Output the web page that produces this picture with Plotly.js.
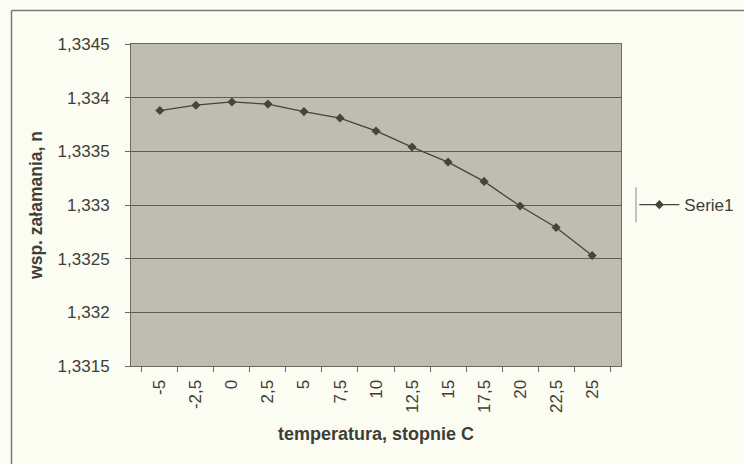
<!DOCTYPE html>
<html>
<head>
<meta charset="utf-8">
<script src="https://cdn.plot.ly/plotly-3.0.1.min.js"></script>
<style>html,body{margin:0;padding:0;background:#fbfcf2;}#chart{width:744px;height:464px;}</style>
</head>
<body>
<div id="chart"></div>
<script>
var categories = ["-5","-2,5","0","2,5","5","7,5","10","12,5","15","17,5","20","22,5","25"];
var serie1 = [1.33388,1.33393,1.33396,1.33394,1.33387,1.33381,1.33369,1.33354,1.33340,1.33322,1.33299,1.33279,1.33253];
var yTickVals = [1.3315,1.332,1.3325,1.333,1.3335,1.334,1.3345];
var yTickText = ["1,3315","1,332","1,3325","1,333","1,3335","1,334","1,3345"];
var seriesName = "Serie1";
var xTitle = "temperatura, stopnie C";
var yTitle = "wsp. załamania, n";

var fontFam = "Liberation Sans, Arial, sans-serif";
var txt = "#3e3e38";
var trace = {
  x: categories, y: serie1, type: "scatter", mode: "lines+markers", name: seriesName,
  line: {color: "#45453c", width: 1.3},
  marker: {symbol: "diamond", size: 7, color: "#45453c"}
};
var layout = {
  width: 744, height: 464,
  margin: {l: 131, r: 123, t: 44, b: 98, autoexpand: false},
  paper_bgcolor: "#fbfcf2",
  plot_bgcolor: "#bfbcb1",
  separators: ", ",
  font: {family: fontFam, size: 17, color: txt},
  showlegend: true,
  legend: {xref: "container", yref: "container", x: 0.8526, xanchor: "left", y: 0.558, yanchor: "middle", itemwidth: 40,
           bgcolor: "rgba(0,0,0,0)", borderwidth: 0,
           font: {family: fontFam, size: 17, color: txt}},
  xaxis: {
    type: "category", tickson: "boundaries", ticks: "outside", ticklen: 5, tickcolor: "#6a6a64",
    tickangle: -90, showgrid: false, showline: true, linecolor: "#6a6a64", mirror: true,
    ticklabelstandoff: 6,
    tickfont: {family: fontFam, size: 17, color: txt},
    title: {text: "<b>" + xTitle + "</b>", standoff: 15, font: {family: fontFam, size: 18, color: txt}}
  },
  yaxis: {
    range: [1.3315, 1.3345], tickvals: yTickVals, ticktext: yTickText,
    ticks: "outside", ticklen: 5, tickcolor: "#6a6a64",
    showgrid: true, gridcolor: "#5e5d55", gridwidth: 1,
    showline: true, linecolor: "#6a6a64", mirror: true, zeroline: false,
    ticklabelstandoff: 12,
    tickfont: {family: fontFam, size: 17, color: txt},
    title: {text: "<b>" + yTitle + "</b>", standoff: 10, font: {family: fontFam, size: 17.5, color: txt}}
  },
  shapes: [
    {type: "line", xref: "paper", yref: "paper", x0: -0.2439, x1: -0.2439, y0: -0.4, y1: 1.104, line: {color: "#7a7a74", width: 1.5}},
    {type: "line", xref: "paper", yref: "paper", x0: 1.4, x1: -0.2439, y0: 1.104, y1: 1.104, line: {color: "#7a7a74", width: 1.5}},
    {type: "line", xref: "paper", yref: "paper", x0: 1.0306, x1: 1.0306, y0: 0.446, y1: 0.555, line: {color: "#8a8a84", width: 1}}
  ]
};
Plotly.newPlot("chart", [trace], layout, {displayModeBar: false, staticPlot: true});
</script>
</body>
</html>
